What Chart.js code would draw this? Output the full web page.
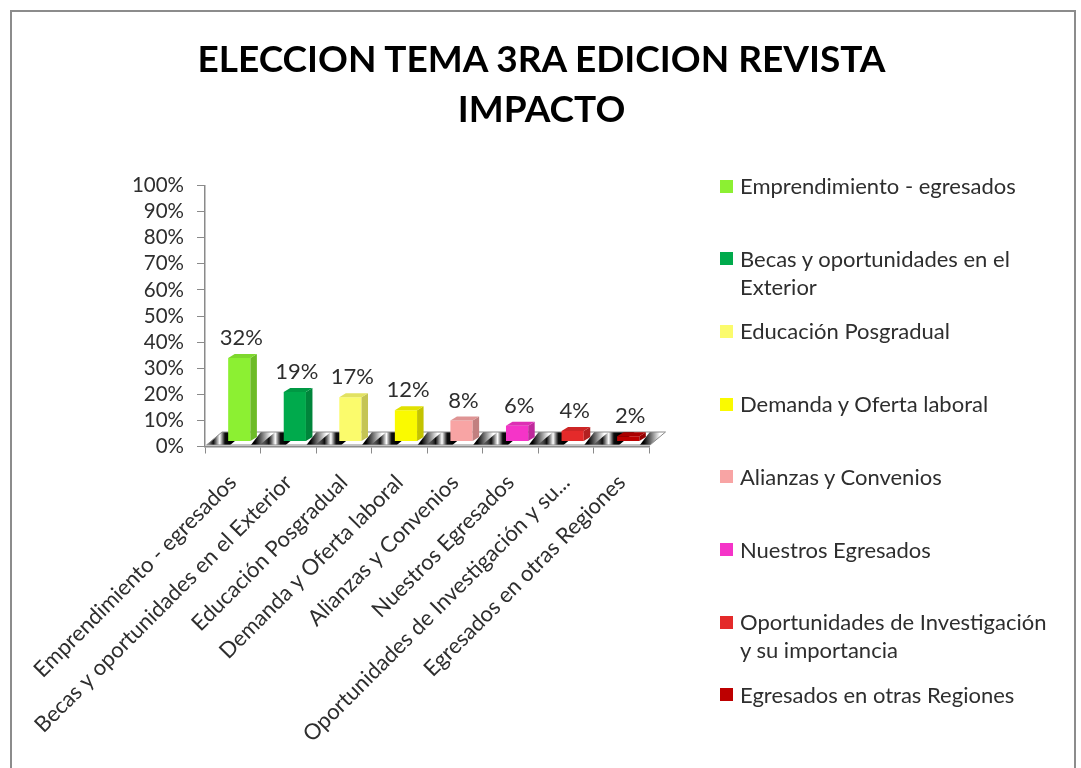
<!DOCTYPE html>
<html>
<head>
<meta charset="utf-8">
<script src="https://cdn.jsdelivr.net/npm/chart.js@4/dist/chart.umd.min.js"></script>
<style>
html,body{margin:0;padding:0;background:#fff;overflow:hidden;width:1081px;height:768px;}
#frame{position:absolute;left:10px;top:10px;width:1066px;height:800px;border:2px solid #8c8c8c;box-sizing:border-box;}
#c{position:absolute;left:0;top:0;}
#title{position:absolute;left:0;top:33px;width:1083px;text-align:center;font-family:Lato,"Open Sans",sans-serif;font-weight:bold;font-size:37px;line-height:50px;color:#000;}
#legend{position:absolute;left:0;top:0;width:1081px;height:768px;font-family:Lato,"Open Sans",sans-serif;font-size:22px;color:#2e2e2e;}
.item{position:absolute;left:720px;width:350px;height:60px;}
.sw{position:absolute;left:0;top:7.5px;width:13px;height:13px;}
.tx{position:absolute;left:20px;top:0;width:315px;line-height:28px;white-space:normal;}
</style>
</head>
<body>
<div id="frame"></div>
<canvas id="c" width="1081" height="768"></canvas>
<div id="title"></div>
<div id="legend"></div>
<script>
// ---- data ----
const titleLines = ["ELECCION TEMA 3RA EDICION REVISTA", "IMPACTO"];
const categories = [
  "Emprendimiento - egresados",
  "Becas y oportunidades en el Exterior",
  "Educación Posgradual",
  "Demanda y Oferta laboral",
  "Alianzas y Convenios",
  "Nuestros Egresados",
  "Oportunidades de Investigación y su importancia",
  "Egresados en otras Regiones"
];
const tickLabels = [
  "Emprendimiento - egresados",
  "Becas y oportunidades en el Exterior",
  "Educación Posgradual",
  "Demanda y Oferta laboral",
  "Alianzas y Convenios",
  "Nuestros Egresados",
  "Oportunidades de Investigación y su...",
  "Egresados en otras Regiones"
];
const values = [32, 19, 17, 12, 8, 6, 4, 2];
const yTicks = [0, 10, 20, 30, 40, 50, 60, 70, 80, 90, 100];

// ---- styles ----
const barColors = ["#8cf032", "#00aa4c", "#fbfb6c", "#fafa00", "#f8a4a4", "#f534c8", "#e42a2a", "#bd0000"];
const FONT = "Lato";
const TEXT = "#2e2e2e";
const AXIS = "#8a8a8a";

function shade(hex, f) {
  const n = parseInt(hex.slice(1), 16);
  let r = (n >> 16) & 255, g = (n >> 8) & 255, b = n & 255;
  r = Math.round(r * f); g = Math.round(g * f); b = Math.round(b * f);
  return "rgb(" + r + "," + g + "," + b + ")";
}

const OFF_X = 6.5, OFF_Y = -5;   // bars placed mid-depth on floor
const DX = 6.5, DY = -4;         // bar depth
const FLOOR_DX = 15.5, FLOOR_DY = -13;

const bar3d = {
  id: "bar3d",
  beforeDatasetsDraw(chart) {
    const { ctx, chartArea: a } = chart;
    const fy = a.bottom - 1.5, by = fy + FLOOR_DY;
    const fl = a.left + 1.5, fr = a.right + 0.5;
    ctx.save();
    ctx.beginPath();
    ctx.moveTo(fl, fy); ctx.lineTo(fr, fy);
    ctx.lineTo(fr + FLOOR_DX, by); ctx.lineTo(fl + FLOOR_DX, by);
    ctx.closePath();
    ctx.fillStyle = "#ffffff";
    ctx.fill();
    ctx.save();
    ctx.clip();
    const meta = chart.getDatasetMeta(0);
    meta.data.forEach(b => {
      const l = b.x - b.width / 2 + OFF_X;
      const r = b.x + b.width / 2 + OFF_X;
      const x0 = l - 24, x1 = l + 2;
      const g = ctx.createLinearGradient(x0, 0, x1, 0);
      g.addColorStop(0, "rgba(0,0,0,0)");
      g.addColorStop(0.35, "rgba(0,0,0,0.95)");
      g.addColorStop(0.6, "rgba(255,255,255,1)");
      g.addColorStop(0.8, "rgba(0,0,0,0.95)");
      g.addColorStop(1, "rgba(0,0,0,1)");
      ctx.beginPath();
      ctx.moveTo(x0, fy); ctx.lineTo(x1, fy);
      ctx.lineTo(x1 + FLOOR_DX, by); ctx.lineTo(x0 + FLOOR_DX, by);
      ctx.closePath();
      ctx.fillStyle = g;
      ctx.fill();
      const y0 = r + DX - 2, y1 = r + DX + 14;
      const g2 = ctx.createLinearGradient(y0, 0, y1, 0);
      g2.addColorStop(0, "rgba(0,0,0,1)");
      g2.addColorStop(1, "rgba(0,0,0,0)");
      ctx.beginPath();
      ctx.moveTo(y0 - 4, fy); ctx.lineTo(y1 - 4, fy);
      ctx.lineTo(y1 + 6, by); ctx.lineTo(y0 + 6, by);
      ctx.closePath();
      ctx.fillStyle = g2;
      ctx.fill();
    });
    ctx.restore();
    ctx.beginPath();
    ctx.moveTo(fl, fy); ctx.lineTo(fr, fy);
    ctx.lineTo(fr + FLOOR_DX, by); ctx.lineTo(fl + FLOOR_DX, by);
    ctx.closePath();
    ctx.strokeStyle = AXIS;
    ctx.lineWidth = 1;
    ctx.stroke();
    ctx.restore();
  },
  beforeDatasetDraw(chart) {
    chart.ctx.save();
    chart.ctx.translate(OFF_X, OFF_Y);
  },
  afterDatasetDraw(chart, args) {
    const ctx = chart.ctx;
    const meta = args.meta;
    meta.data.forEach((b, i) => {
      const l = b.x - b.width / 2, r = b.x + b.width / 2;
      const t = b.y, btm = b.base;
      const c = barColors[i];
      ctx.beginPath();
      ctx.moveTo(r, t); ctx.lineTo(r + DX, t + DY);
      ctx.lineTo(r + DX, btm + DY); ctx.lineTo(r, btm);
      ctx.closePath();
      ctx.fillStyle = shade(c, 0.78);
      ctx.fill();
      ctx.beginPath();
      ctx.moveTo(l, t); ctx.lineTo(l + DX, t + DY);
      ctx.lineTo(r + DX, t + DY); ctx.lineTo(r, t);
      ctx.closePath();
      ctx.fillStyle = shade(c, 0.9);
      ctx.fill();
    });
    ctx.restore();
  },
  afterDatasetsDraw(chart) {
    const ctx = chart.ctx;
    const meta = chart.getDatasetMeta(0);
    ctx.save();
    ctx.font = "22px " + FONT;
    ctx.fillStyle = TEXT;
    ctx.textAlign = "center";
    ctx.textBaseline = "middle";
    meta.data.forEach((b, i) => {
      ctx.fillText(values[i] + "%", b.x + OFF_X + 2, b.y + OFF_Y - 20);
    });
    ctx.restore();
  }
};

new Chart(document.getElementById("c"), {
  type: "bar",
  data: {
    labels: tickLabels,
    datasets: [{
      data: values,
      backgroundColor: barColors,
      borderWidth: 0,
      categoryPercentage: 1,
      barPercentage: 0.4
    }]
  },
  options: {
    responsive: false,
    animation: false,
    devicePixelRatio: 1,
    layout: { padding: { left: 0, right: 431.5, top: 185.5, bottom: 0 } },
    plugins: {
      legend: { display: false },
      tooltip: { enabled: false },
      title: { display: false }
    },
    scales: {
      x: {
        grid: { display: true, drawOnChartArea: false, drawTicks: true, tickLength: 7, color: AXIS, offset: true },
        border: { color: AXIS, width: 1.5 },
        ticks: {
          minRotation: 45, maxRotation: 45, autoSkip: false,
          font: { family: FONT, size: 22 }, color: TEXT, padding: 16
        },
        afterFit(s) { s.height = 768 - 446.5; s.paddingLeft = 0; s.paddingRight = 0; }
      },
      y: {
        min: 0, max: 100,
        afterBuildTicks(s) { s.ticks = yTicks.map(v => ({ value: v })); },
        grid: { display: true, drawOnChartArea: false, drawTicks: true, tickLength: 8, color: AXIS },
        border: { color: AXIS, width: 1.5 },
        ticks: {
          autoSkip: false,
          font: { family: FONT, size: 20.5 }, color: TEXT, padding: 13,
          callback: v => v + "%"
        },
        afterFit(s) { s.width = 205; }
      }
    }
  },
  plugins: [bar3d]
});

// title (HTML)
const tt = document.getElementById("title");
titleLines.forEach(line => {
  const d = document.createElement("div");
  d.textContent = line;
  tt.appendChild(d);
});

// legend (HTML, built from the data arrays)
const lg = document.getElementById("legend");
categories.forEach((name, i) => {
  const it = document.createElement("div");
  it.className = "item";
  it.style.top = (186 + 72.7 * i - 14) + "px";
  const sw = document.createElement("div");
  sw.className = "sw";
  sw.style.background = barColors[i];
  const tx = document.createElement("div");
  tx.className = "tx";
  tx.textContent = name;
  it.appendChild(sw);
  it.appendChild(tx);
  lg.appendChild(it);
});
</script>
</body>
</html>
